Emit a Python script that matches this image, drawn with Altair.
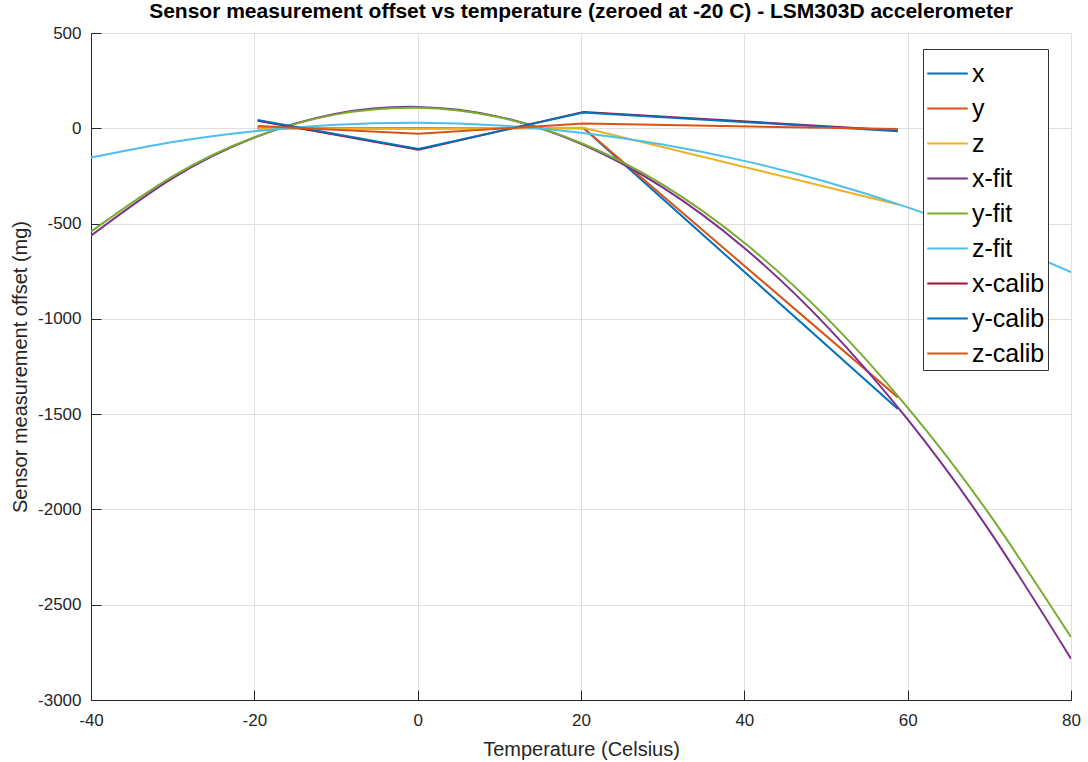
import altair as alt
import pandas as pd

# ---------------- data ----------------
series_order = ["x", "y", "z", "x-fit", "y-fit", "z-fit", "x-calib", "y-calib", "z-calib"]
series_colors = ["#0072BD", "#D95319", "#EDB120", "#7E2F8E", "#77AC30",
                 "#4DBEEE", "#A2142F", "#0072BD", "#D95319"]

meas_temp = [-19.6, 0.1, 20.3, 58.8]
x_raw = [0, 0, 1, -1473]
y_raw = [0, 0, 2, -1412]
z_raw = [0, -1, 3, -400]
x_calib = [40, -113, 86, -11]
y_calib = [43, -109, 83, -15]
z_calib = [12, -29, 25, -4]

fit_temp = [-40, -30, -20, -10, 0, 10, 20, 30, 40, 50, 60, 70, 80]
x_fit = [-564, -262, -49, 76, 112, 60, -81, -310, -628, -1034, -1528, -2111, -2783]
y_fit = [-542, -252, -47, 73, 108, 58, -77, -296, -601, -991, -1466, -2025, -2670]
z_fit = [-154, -72, -15, 19, 29, 15, -23, -85, -171, -281, -415, -573, -755]

x_ticks = [-40, -20, 0, 20, 40, 60, 80]
y_ticks = [-3000, -2500, -2000, -1500, -1000, -500, 0, 500]

# ---------------- long table ----------------
rows = []
for name, vals in [("x", x_raw), ("y", y_raw), ("z", z_raw)]:
    for t, v in zip(meas_temp, vals):
        rows.append({"T": t, "v": v, "series": name, "kind": "raw"})
for name, vals in [("x-fit", x_fit), ("y-fit", y_fit), ("z-fit", z_fit)]:
    for t, v in zip(fit_temp, vals):
        rows.append({"T": t, "v": v, "series": name, "kind": "fit"})
for name, vals in [("x-calib", x_calib), ("y-calib", y_calib), ("z-calib", z_calib)]:
    for t, v in zip(meas_temp, vals):
        rows.append({"T": t, "v": v, "series": name, "kind": "calib"})
df = pd.DataFrame(rows)

W, H = 980, 667
FONT = "Liberation Sans"
LABEL_EXPR = "'' + datum.value"
xscale = alt.Scale(domain=[-40, 80], nice=False, zero=False)
yscale = alt.Scale(domain=[-3000, 500], nice=False, zero=False)
color = alt.Color(
    "series:N",
    scale=alt.Scale(domain=series_order, range=series_colors),
    sort=series_order,
    legend=alt.Legend(
        title=None, orient="none", legendX=832, legendY=16,
        symbolType="stroke", symbolSize=1640, symbolStrokeWidth=2,
        labelFontSize=25, labelFont=FONT, labelColor="#000000",
        fillColor="#FFFFFF", strokeColor="#333333", padding=3,
        rowPadding=0, labelOffset=3, symbolOffset=0,
    ),
)

base = alt.Chart(df)

# main axes with grid (bottom / left)
axis_layer = base.mark_line(opacity=0).encode(
    x=alt.X("T:Q", scale=xscale, title="Temperature (Celsius)",
            axis=alt.Axis(values=x_ticks, grid=True, gridColor="#DFDFDF", gridWidth=1,
                          domainColor="#262626", ticks=False, labelPadding=12,
                          labelExpr=LABEL_EXPR,
                          labelFontSize=17, labelFont=FONT, labelColor="#262626",
                          titleFontSize=20, titleFont=FONT, titleFontWeight="normal",
                          titleColor="#262626", titlePadding=11, labelFlush=False)),
    y=alt.Y("v:Q", scale=yscale, title="Sensor measurement offset (mg)",
            axis=alt.Axis(values=y_ticks, grid=True, gridColor="#DFDFDF", gridWidth=1,
                          domainColor="#262626", ticks=False, labelPadding=10,
                          labelExpr=LABEL_EXPR,
                          labelFontSize=17, labelFont=FONT, labelColor="#262626",
                          titleFontSize=20, titleFont=FONT, titleFontWeight="normal",
                          titleColor="#262626", titleX=-71, titleY=H / 2,
                          titleBaseline="middle", titleAlign="center",
                          labelFlush=False)),
    detail="series:N",
)

# inward tick marks: opposite-side axes shifted onto the bottom / left edges
tick_layer = base.mark_line(opacity=0).encode(
    x=alt.X("T:Q", scale=xscale, title=None,
            axis=alt.Axis(orient="top", offset=-H, values=x_ticks, grid=False, labels=False,
                          domain=False, ticks=True, tickSize=10, tickColor="#262626",
                          tickWidth=1)),
    y=alt.Y("v:Q", scale=yscale, title=None,
            axis=alt.Axis(orient="right", offset=-W, values=y_ticks, grid=False, labels=False,
                          domain=False, ticks=True, tickSize=10, tickColor="#262626",
                          tickWidth=1)),
    detail="series:N",
)

def data_layer(kind, interp):
    return base.transform_filter(alt.datum.kind == kind).mark_line(
        strokeWidth=2, interpolate=interp, clip=True
    ).encode(
        x=alt.X("T:Q", scale=xscale, axis=None),
        y=alt.Y("v:Q", scale=yscale, axis=None),
        color=color,
    )

chart = alt.layer(
    axis_layer,
    tick_layer,
    data_layer("raw", "linear"),
    data_layer("fit", "natural"),
    data_layer("calib", "linear"),
).resolve_axis(x="independent", y="independent").properties(
    width=W, height=H,
    autosize=alt.AutoSizeParams(type="none"),
    padding={"left": 91, "top": 33, "right": 17, "bottom": 62},
    title=alt.TitleParams(
        "Sensor measurement offset vs temperature (zeroed at -20 C) - LSM303D accelerometer",
        fontSize=21, font=FONT, fontWeight="bold", color="#000000",
        anchor="middle", offset=2,
    ),
).configure_view(stroke=None).configure(background="#FFFFFF")

chart.save("out.html", embed_options={"renderer": "svg", "actions": False})
